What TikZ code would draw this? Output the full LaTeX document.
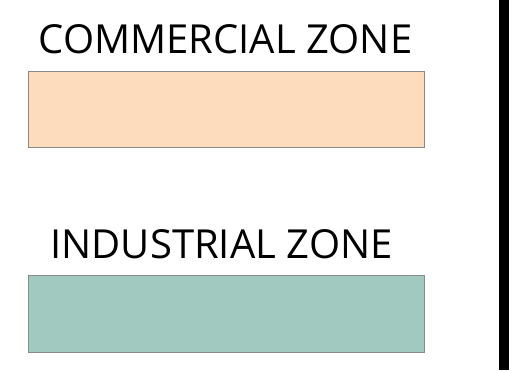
\documentclass[tikz,border=0pt]{standalone}
\usepackage{fontspec}
\setmainfont{Open Sans}
\definecolor{peach}{HTML}{FDDCBE}
\definecolor{teal2}{HTML}{A2C9C0}
\definecolor{edge}{HTML}{8A8A8A}
\begin{document}
\begin{tikzpicture}[x=1pt,y=-1pt,
  zonebox/.style={draw=edge,line width=1pt},
  zonelabel/.style={inner sep=0pt,anchor=center,font=\fontsize{40}{40}\selectfont}]
\useasboundingbox (0,0) rectangle (520,370);
\fill[white] (0,0) rectangle (520,370);
\node[zonelabel] (ct) at (225.5,39.5) {\vphantom{C}COMMERCIAL ZONE};
\draw[zonebox,fill=peach] (28,71) rectangle (424,147.5);
\node[zonelabel] (it) at (221.5,244) {\vphantom{C}INDUSTRIAL ZONE};
\draw[zonebox,fill=teal2] (28,275.5) rectangle (424,352);
\fill[black] (499,0) rectangle (509,370);
\end{tikzpicture}
\end{document}
